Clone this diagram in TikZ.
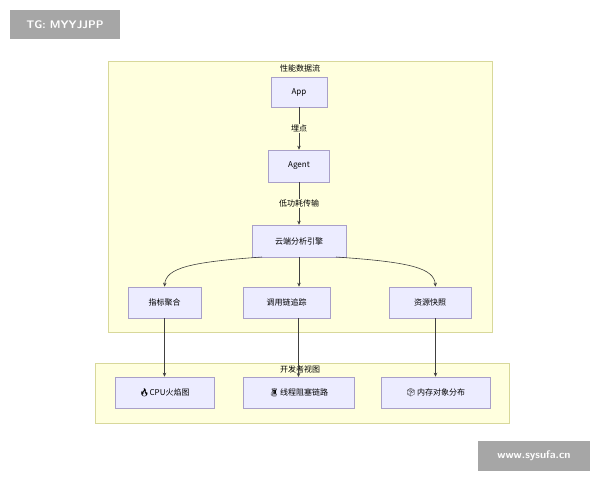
\documentclass[tikz,border=0pt]{standalone}
\usepackage{fontspec}
\setmainfont{Noto Sans CJK SC}
\newfontfamily\emo{Noto Emoji}
\usetikzlibrary{arrows.meta}
\definecolor{nfill}{HTML}{ECECFF}
\definecolor{nstroke}{HTML}{A9A0C8}
\definecolor{cfill}{HTML}{FFFFDE}
\definecolor{cstroke}{HTML}{D8D89A}
\tikzset{
  box/.style={draw=nstroke,fill=nfill,line width=0.6pt,font=\fontsize{8}{9}\selectfont,inner sep=0pt},
  clus/.style={draw=cstroke,fill=cfill,line width=0.6pt},
  arr/.style={draw=black!75,line width=0.6pt,-{Stealth[length=4pt,width=3.5pt]}},
  lab/.style={fill=cfill,font=\fontsize{8}{9}\selectfont,inner sep=1pt},
  wm/.style={fill=black!35,text=white,font=\sffamily\bfseries\fontsize{11}{12}\selectfont,inner sep=0pt}
}
\begin{document}
\begin{tikzpicture}[x=1pt,y=-1pt]
\useasboundingbox (0,0) rectangle (600,480);
\fill[white] (0,0) rectangle (600,480);
\node[wm,minimum width=110,minimum height=29] (tg) at (65,24.5) {TG: MYYJJPP};
\node[wm,minimum width=112,minimum height=30] (ws) at (534,456) {www.sysufa.cn};
\draw[clus] (108,61) rectangle (492,332);
\node[font=\fontsize{8}{9}\selectfont] (t1) at (300,68) {性能数据流};
\draw[clus] (95,363) rectangle (509,423);
\node[font=\fontsize{8}{9}\selectfont] (t2) at (300,369) {开发者视图};
\node[box,minimum width=56,minimum height=30] (app) at (299,92) {App};
\node[box,minimum width=61,minimum height=32] (agent) at (299,166) {Agent};
\node[box,minimum width=94,minimum height=32] (cloud) at (299,241) {云端分析引擎};
\node[box,minimum width=73,minimum height=31] (m1) at (164.5,302.5) {指标聚合};
\node[box,minimum width=87,minimum height=31] (m2) at (286.5,302.5) {调用链追踪};
\node[box,minimum width=82,minimum height=31] (m3) at (430,302.5) {资源快照};
\node[box,minimum width=99,minimum height=31] (b1) at (164.5,392.5) {{\emo 🔥}CPU火焰图};
\node[box,minimum width=111,minimum height=31] (b2) at (298.5,392.5) {{\emo 🧵}\,线程阻塞链路};
\node[box,minimum width=109,minimum height=31] (b3) at (435.5,392.5) {{\emo 📦}\,内存对象分布};
\draw[arr] (app) -- node[lab] {埋点} (agent);
\draw[arr] (agent) -- node[lab] {低功耗传输} (cloud);
\draw[arr] (262,257) .. controls (190,262) and (166,268) .. (m1.north);
\draw[arr] (cloud.south) -- (m2.north -| cloud);
\draw[arr] (336,257) .. controls (410,262) and (434,268) .. (m3.north -| b3);
\draw[arr] (m1) -- (b1);
\draw[arr] (m2.south -| b2) -- (298.5,377) coordinate (e2);
\draw[arr] (m3.south -| b3) -- (b3.north);
\end{tikzpicture}
\end{document}
